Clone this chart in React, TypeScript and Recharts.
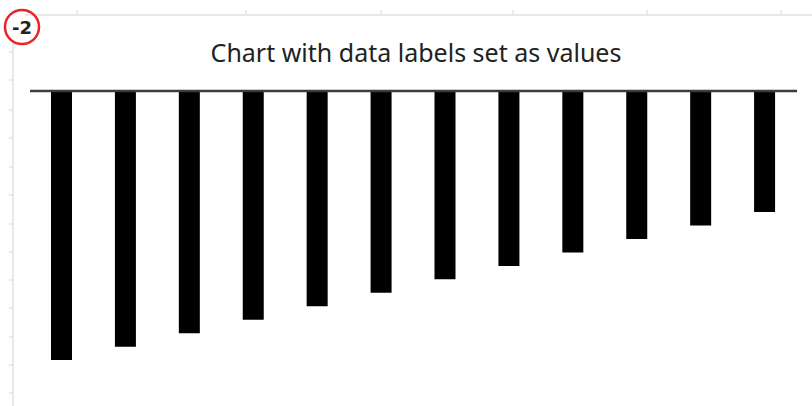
import { BarChart, Bar, XAxis, YAxis, ReferenceLine } from "recharts"

// categories and values (bars hang below zero)
const categories = ["1", "2", "3", "4", "5", "6", "7", "8", "9", "10", "11", "12"]
const values = [-20, -19, -18, -17, -16, -15, -14, -13, -12, -11, -10, -9]
const yDomain = [-22, 0]

const data = categories.map((name, i) => ({ name, value: values[i] }))

// faint spreadsheet grid behind the chart
const topTicks = [77, 246, 381, 513, 647, 781]
const leftTicks = [52, 80, 110, 138, 167, 195, 224, 252, 280, 308, 337, 365, 393]

export default function App() {
    return (
        <div
            style={{
                position: "absolute",
                left: 0,
                top: 0,
                width: 812,
                height: 406,
                background: "#fff",
                overflow: "hidden",
            }}
        >
            <svg width={812} height={406} style={{ position: "absolute", left: 0, top: 0 }}>
                <line x1={25} y1={15} x2={812} y2={15} stroke="#e2e2e2" strokeWidth={1.5} />
                {topTicks.map((x) => (
                    <line key={x} x1={x} y1={10} x2={x} y2={15} stroke="#d8d8d8" />
                ))}
                <line x1={13} y1={40} x2={13} y2={406} stroke="#e2e2e2" strokeWidth={1.5} />
                {leftTicks.map((y) => (
                    <line key={y} x1={9} y1={y} x2={13} y2={y} stroke="#d8d8d8" />
                ))}
                <circle cx={22} cy={27} r={17} fill="none" stroke="#e8262a" strokeWidth={2.5} />
                <text
                    x={22}
                    y={34}
                    textAnchor="middle"
                    fontFamily="DejaVu Sans, sans-serif"
                    fontWeight="bold"
                    fontSize={18}
                    fill="#222"
                >
                    -2
                </text>
                <text
                    x={416}
                    y={62}
                    textAnchor="middle"
                    fontFamily="Noto Sans, sans-serif"
                    fontSize={25}
                    fill="#222"
                >
                    Chart with data labels set as values
                </text>
            </svg>
            <div style={{ position: "absolute", left: 0, top: 0 }}>
                <BarChart
                    width={812}
                    height={406}
                    data={data}
                    margin={{ top: 91, right: 15, bottom: 19, left: 30 }}
                >
                    <XAxis dataKey="name" hide />
                    <YAxis domain={yDomain} hide />
                    <Bar dataKey="value" fill="#000" barSize={21} isAnimationActive={false} />
                    <ReferenceLine y={0} stroke="#3c3c3c" strokeWidth={2.5} />
                </BarChart>
            </div>
        </div>
    )
}
